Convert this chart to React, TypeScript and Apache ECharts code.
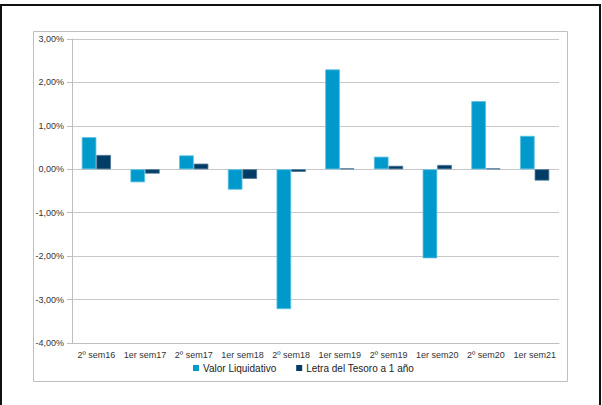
import React, { useEffect, useRef } from "react";
import * as echarts from "echarts";

const categories = [
  "2º sem16", "1er sem17", "2º sem17", "1er sem18", "2º sem18",
  "1er sem19", "2º sem19", "1er sem20", "2º sem20", "1er sem21",
];
const valorLiquidativo = [0.74, -0.30, 0.32, -0.47, -3.22, 2.30, 0.29, -2.05, 1.57, 0.77];
const letraTesoro = [0.33, -0.10, 0.13, -0.22, -0.06, 0.02, 0.08, 0.10, 0.02, -0.26];
const seriesNames = ["Valor Liquidativo", "Letra del Tesoro a 1 año"];

export default function App() {
  const ref = useRef<HTMLDivElement>(null);
  useEffect(() => {
    if (!ref.current) return;
    const chart = echarts.init(ref.current, undefined, { renderer: "svg" });
    const font = "Arial, 'Liberation Sans', sans-serif";
    chart.setOption({
      animation: false,
      backgroundColor: "#ffffff",
      graphic: [
        {
          type: "rect",
          shape: { x: 1, y: 5, width: 599, height: 420 },
          style: { fill: "none", stroke: "#111111", lineWidth: 2 },
          silent: true,
        },
        {
          type: "rect",
          shape: { x: 33.5, y: 31.5, width: 534, height: 350 },
          style: { fill: "none", stroke: "#bfbfbf", lineWidth: 1 },
          silent: true,
        },
      ],
      grid: { left: 72, right: 43, top: 39, bottom: 62, containLabel: false },
      legend: {
        bottom: 27,
        left: 188,
        itemWidth: 6,
        itemHeight: 6,
        itemGap: 20,
        icon: "rect",
        itemStyle: { borderWidth: 0 },
        textStyle: { fontFamily: font, fontSize: 10, color: "#222222", padding: [0, 0, 0, -1] },
        data: seriesNames,
      },
      xAxis: {
        type: "category",
        data: categories,
        position: "bottom",
        axisLine: { onZero: false, lineStyle: { color: "#bfbfbf" } },
        axisTick: { show: false },
        axisLabel: { fontFamily: font, fontSize: 9, color: "#333333", margin: 7, interval: 0 },
      },
      yAxis: {
        type: "value",
        min: -4,
        max: 3,
        interval: 1,
        axisLine: { show: true, lineStyle: { color: "#bfbfbf" } },
        axisTick: { show: true, length: 5, lineStyle: { color: "#bfbfbf" } },
        splitLine: { lineStyle: { color: "#c8c8c8" } },
        axisLabel: {
          fontFamily: font,
          fontSize: 9,
          color: "#333333",
          margin: 8,
          formatter: (v: number) => v.toFixed(2).replace(".", ",") + "%",
        },
      },
      series: [
        {
          name: seriesNames[0],
          type: "bar",
          data: valorLiquidativo,
          barGap: "0%",
          barCategoryGap: "40%",
          itemStyle: { color: "#0099cc", borderColor: "#5cc0e3", borderWidth: 0.8 },
        },
        {
          name: seriesNames[1],
          type: "bar",
          data: letraTesoro,
          barGap: "0%",
          barCategoryGap: "40%",
          itemStyle: { color: "#003d66", borderColor: "#4a7593", borderWidth: 0.8 },
        },
      ],
    });
    return () => chart.dispose();
  }, []);
  return (
    <div
      ref={ref}
      style={{ position: "fixed", left: 0, top: 0, width: 602, height: 405 }}
    />
  );
}
